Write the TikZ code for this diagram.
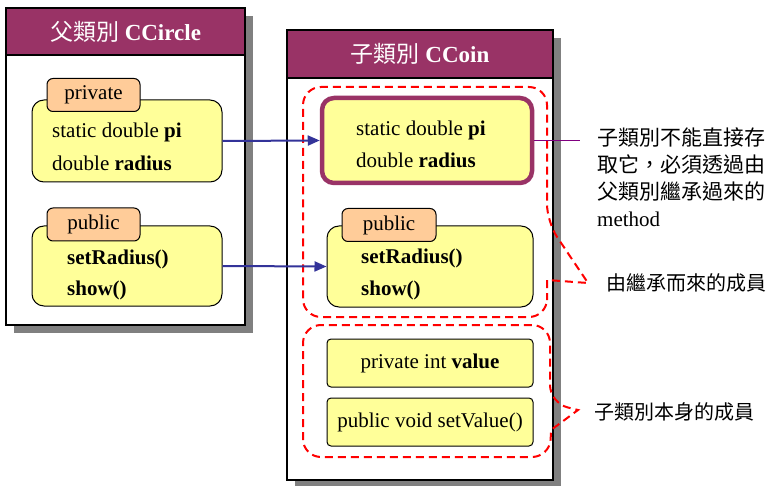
\documentclass[tikz,border=0pt]{standalone}
\usepackage{fontspec}
\setmainfont{Liberation Serif}
\newfontfamily\cjk{Noto Sans CJK TC}
\usepackage{xcolor}
\usepackage{tikz}
\usetikzlibrary{shadows, arrows.meta}
\definecolor{headpurple}{RGB}{153,51,102}
\definecolor{memberyellow}{RGB}{255,255,153}
\definecolor{tagorange}{RGB}{255,204,153}
\definecolor{arrowblue}{RGB}{51,51,153}
\definecolor{notepurple}{RGB}{128,0,128}
\definecolor{shadowgray}{RGB}{128,128,128}
\tikzstyle{classbox} = [rectangle, draw=black, line width=2pt, fill=white, drop shadow={shadow xshift=8pt, shadow yshift=-8pt, fill=shadowgray, opacity=1}]
\tikzstyle{classhead} = [rectangle, draw=black, line width=2pt, fill=headpurple, text=white, minimum height=47pt, font=\fontsize{23}{23}\selectfont\bfseries]
\tikzstyle{member} = [rectangle, rounded corners=12pt, draw=black, line width=1pt, fill=memberyellow]
\tikzstyle{field} = [rectangle, rounded corners=4pt, draw=black, line width=1pt, fill=memberyellow, minimum width=206pt, minimum height=48pt, font=\fontsize{21}{21}\selectfont]
\tikzstyle{tag} = [rectangle, rounded corners=6pt, draw=black, line width=1pt, fill=tagorange, minimum width=93pt, minimum height=33pt, inner sep=0pt, font=\fontsize{21}{21}\selectfont]
\tikzstyle{txt} = [inner sep=0pt, align=left, anchor=west]
\tikzstyle{note} = [inner sep=0pt, align=left, anchor=west, font=\fontsize{21}{27}\selectfont]
\tikzstyle{arrow} = [line width=2pt, draw=arrowblue, ->, >={Triangle[length=12pt,width=10pt]}]
\tikzstyle{group} = [draw=red, line width=2pt, dash pattern=on 8pt off 5pt]

\begin{document}
\begin{tikzpicture}[x=1pt, y=-1pt]
   \useasboundingbox (0,0) rectangle (773,486);
   % parent class
   \node (parent) [classbox, minimum width=239pt, minimum height=317pt] at (125.5,166.5) {};
   \node (parentHead) [classhead, minimum width=239pt] at (125.5,31.5) {{\cjk\mdseries 父類別}\ CCircle};
   \node (privBox) [member, minimum width=190pt, minimum height=82pt] at (127,141) {};
   \node (privTag) [tag] at (93.5,95) {private};
   \node (privText) [txt, font=\fontsize{21}{33}\selectfont] at (52,146.5) {static double \textbf{pi}\\double \textbf{radius}};
   \node (pubBox) [member, minimum width=190pt, minimum height=80pt] at (127,266) {};
   \node (pubTag) [tag] at (93.5,224.5) {public};
   \node (pubText) [txt, font=\fontsize{21}{31}\selectfont\bfseries] at (67,275) {setRadius()\\show()};
   % child class
   \node (child) [classbox, minimum width=266pt, minimum height=450pt] at (420,255) {};
   \node (childHead) [classhead, minimum width=266pt, minimum height=48pt] at (420,54) {{\cjk\mdseries 子類別}\ CCoin};
   % inherited members
   \draw [group, rounded corners=18pt] (303,200) -- (303,87) -- (547,87) -- (547,222)
      [sharp corners] -- (588,283) -- (547,280) -- (547,300)
      [rounded corners=18pt] -- (547,317) -- (303,317) -- cycle;
   \node (coinPriv) [member, draw=headpurple, line width=4.5pt, minimum width=210pt, minimum height=85pt] at (427,140.5) {};
   \node (coinPrivText) [txt, font=\fontsize{21}{32}\selectfont] at (356,144) {static double \textbf{pi}\\double \textbf{radius}};
   \node (coinPub) [member, minimum width=206pt, minimum height=81pt] at (430,266.5) {};
   \node (coinPubTag) [tag, minimum width=94pt] at (389,225) {public};
   \node (coinPubText) [txt, font=\fontsize{21}{32}\selectfont\bfseries] at (361,274) {setRadius()\\show()};
   % own members
   \draw [group, rounded corners=18pt] (303,390) -- (303,325) -- (550,325) -- (550,403)
      [sharp corners] -- (578,410) -- (551,430)
      [rounded corners=18pt] -- (550,457) -- (303,457) -- cycle;
   \node (valueBox) [field] at (430,363) {private int \textbf{value}};
   \node (setValueBox) [field] at (430,422) {public void setValue()};
   % connectors
   \draw [arrow] (privBox.east) -- (coinPriv.west);
   \draw [arrow] (pubBox.east) -- (coinPub.west);
   \coordinate (noteEnd) at (580,140.5);
   \draw [line width=1.5pt, draw=notepurple] (coinPriv.east) -- (noteEnd);
   % notes
   \node (accessNote) [note] at (597,177.5) {{\cjk 子類別不能直接存}\\{\cjk 取它，必須透過由}\\{\cjk 父類別繼承過來的}\\method};
   \node (inheritNote) [note, font=\fontsize{20}{20}\selectfont\cjk] at (606,283) {由繼承而來的成員};
   \node (ownNote) [note, font=\fontsize{20}{20}\selectfont\cjk] at (594,412) {子類別本身的成員};
\end{tikzpicture}
\end{document}
